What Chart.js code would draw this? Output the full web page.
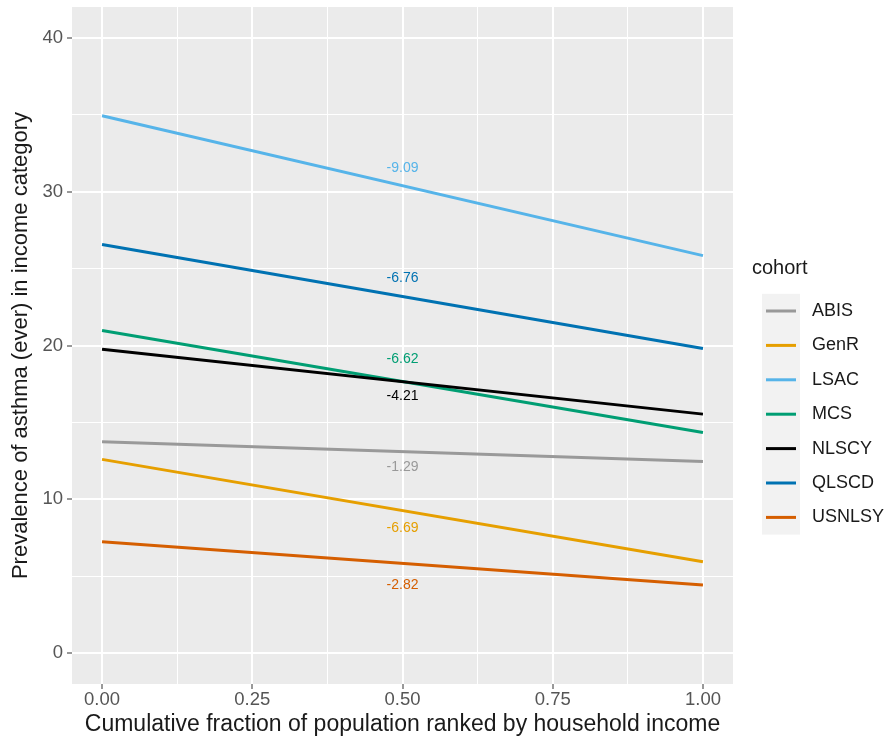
<!DOCTYPE html>
<html lang="en">
<head>
  <meta charset="UTF-8" />
  <title>Asthma prevalence by income</title>
  <script src="https://cdn.jsdelivr.net/npm/chart.js"></script>
  <style>
    body { margin: 0; background: #fff; }
    .wrap { width: 889px; height: 741px; position: relative; }
  </style>
</head>
<body>
  <div class="wrap"><canvas id="chart"></canvas></div>

  <script>
    // data
    const cohorts = ['ABIS', 'GenR', 'LSAC', 'MCS', 'NLSCY', 'QLSCD', 'USNLSY'];
    const xPoints = [0, 1];
    const startVals = [13.75, 12.6, 34.93, 20.97, 19.75, 26.56, 7.25];
    const endVals = [12.46, 5.95, 25.84, 14.35, 15.54, 19.8, 4.43];
    const slopeLabels = ['-1.29', '-6.69', '-9.09', '-6.62', '-4.21', '-6.76', '-2.82'];
    const labelX = 0.5;
    const labelY = [12.1, 8.1, 31.5, 19.1, 16.7, 24.4, 4.4];
    const xTicks = [0, 0.25, 0.5, 0.75, 1];
    const yTicks = [0, 10, 20, 30, 40];

    const colors = ['#999999', '#E69F00', '#56B4E9', '#009E73', '#000000', '#0072B2', '#D55E00'];
    const font = "'Liberation Sans', Arial, sans-serif";

    // major + minor grid positions (ggplot style)
    const xGrid = [0, 0.125, 0.25, 0.375, 0.5, 0.625, 0.75, 0.875, 1];
    const yGrid = [0, 5, 10, 15, 20, 25, 30, 35, 40];

    const datasets = cohorts.map((c, i) => ({
      label: c,
      data: xPoints.map((x, j) => ({ x: x, y: j === 0 ? startVals[i] : endVals[i] })),
      borderColor: colors[i],
      borderWidth: 3,
      pointRadius: 0,
      fill: false,
      order: cohorts.length - i
    }));

    const panelBg = {
      id: 'panelBg',
      beforeDraw(chart) {
        const a = chart.chartArea;
        const ctx = chart.ctx;
        ctx.save();
        ctx.fillStyle = '#EBEBEB';
        ctx.fillRect(a.left, a.top, a.right - a.left, a.bottom - a.top);
        ctx.restore();
      }
    };

    const slopeText = {
      id: 'slopeText',
      afterDatasetsDraw(chart) {
        const ctx = chart.ctx;
        const xs = chart.scales.x, ys = chart.scales.y;
        ctx.save();
        ctx.font = '14px ' + font;
        ctx.textAlign = 'center';
        ctx.textBaseline = 'middle';
        slopeLabels.forEach((t, i) => {
          ctx.fillStyle = colors[i];
          ctx.fillText(t, xs.getPixelForValue(labelX), ys.getPixelForValue(labelY[i]));
        });
        ctx.restore();
      }
    };

    const ggLegend = {
      id: 'ggLegend',
      afterDraw(chart) {
        const ctx = chart.ctx;
        const left = 752, top = 268, keyX = 762, keyW = 38, rowH = 34.4, firstRow = 311;
        ctx.save();
        ctx.fillStyle = '#1a1a1a';
        ctx.font = '20px ' + font;
        ctx.textBaseline = 'middle';
        ctx.fillText('cohort', left, top);
        ctx.fillStyle = '#F2F2F2';
        ctx.fillRect(keyX, firstRow - rowH / 2, keyW, rowH * cohorts.length);
        cohorts.forEach((c, i) => {
          const y = firstRow + i * rowH;
          ctx.strokeStyle = colors[i];
          ctx.lineWidth = 3;
          ctx.beginPath();
          ctx.moveTo(keyX + 4, y);
          ctx.lineTo(keyX + keyW - 4, y);
          ctx.stroke();
          ctx.fillStyle = '#1a1a1a';
          ctx.font = '18px ' + font;
          ctx.fillText(c, 812, y);
        });
        ctx.restore();
      }
    };

    new Chart(document.getElementById('chart'), {
      type: 'line',
      data: { datasets: datasets },
      plugins: [panelBg, slopeText, ggLegend],
      options: {
        responsive: true,
        maintainAspectRatio: false,
        animation: false,
        layout: { padding: { top: 7, right: 156, bottom: 0, left: 6 } },
        plugins: { legend: { display: false }, tooltip: { enabled: false } },
        scales: {
          x: {
            type: 'linear',
            min: -0.05,
            max: 1.05,
            afterBuildTicks(scale) { scale.ticks = xGrid.map(v => ({ value: v })); },
            afterFit(scale) {
              scale.height = 57;
              scale.paddingLeft = 0;
              scale.paddingRight = 0;
            },
            border: { display: false },
            grid: {
              color: '#FFFFFF',
              lineWidth: ctx => (xTicks.includes(ctx.tick.value) ? 2 : 1),
              tickColor: ctx => (xTicks.includes(ctx.tick.value) ? '#333333' : 'rgba(0,0,0,0)'),
              tickLength: 5,
              tickWidth: 1
            },
            ticks: {
              autoSkip: false,
              maxRotation: 0,
              padding: 2,
              color: '#555555',
              font: { family: font, size: 18.5, lineHeight: 1 },
              callback: v => (xTicks.includes(v) ? v.toFixed(2) : '')
            },
            title: {
              display: true,
              text: 'Cumulative fraction of population ranked by household income',
              color: '#1a1a1a',
              font: { family: font, size: 23, lineHeight: 1 },
              padding: { top: 5, bottom: 5 }
            }
          },
          y: {
            type: 'linear',
            min: -2,
            max: 42,
            afterBuildTicks(scale) { scale.ticks = yGrid.map(v => ({ value: v })); },
            afterFit(scale) {
              scale.width = 66;
              scale.paddingTop = 0;
              scale.paddingBottom = 0;
            },
            border: { display: false },
            grid: {
              color: '#FFFFFF',
              lineWidth: ctx => (yTicks.includes(ctx.tick.value) ? 2 : 1),
              tickColor: ctx => (yTicks.includes(ctx.tick.value) ? '#333333' : 'rgba(0,0,0,0)'),
              tickLength: 5,
              tickWidth: 1
            },
            ticks: {
              autoSkip: false,
              padding: 4,
              color: '#555555',
              font: { family: font, size: 18.5, lineHeight: 1 },
              callback: v => (yTicks.includes(v) ? String(v) : '')
            },
            title: {
              display: true,
              text: 'Prevalence of asthma (ever) in income category',
              color: '#1a1a1a',
              font: { family: font, size: 22, lineHeight: 1 },
              padding: { top: 4, bottom: 2 }
            }
          }
        }
      }
    });
  </script>
</body>
</html>
